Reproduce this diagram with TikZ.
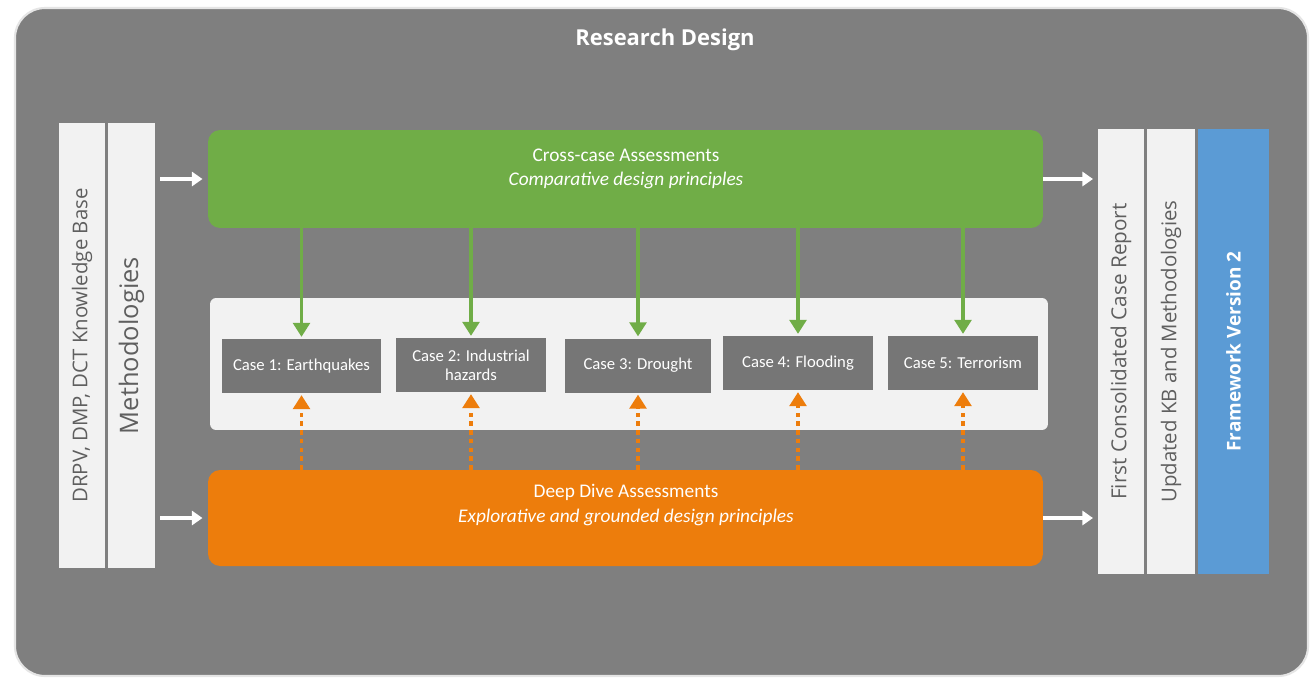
\documentclass[tikz,border=0pt]{standalone}
\usepackage{fontspec}
\setmainfont{Open Sans}
\newfontfamily\boxfont{Carlito}
\usepackage{xcolor}
\usetikzlibrary{arrows.meta}

\definecolor{bggray}{RGB}{127,127,127}
\definecolor{casegray}{RGB}{118,118,118}
\definecolor{panelgray}{RGB}{242,242,242}
\definecolor{labgray}{RGB}{95,95,95}
\definecolor{crossgreen}{RGB}{112,173,71}
\definecolor{diveorange}{RGB}{237,125,12}
\definecolor{fwblue}{RGB}{91,155,213}

\begin{document}
\begin{tikzpicture}[x=0.02cm,y=-0.02cm,
  colbox/.style={fill=panelgray, draw=bggray, line width=0.6pt, minimum height=8.92cm, inner sep=0pt},
  vlab/.style={rotate=90, text=labgray},
  bigbox/.style={rounded corners=0.24cm, minimum width=16.7cm, inner sep=0pt},
  casebox/.style={fill=casegray, text=white, minimum height=1.08cm, align=center, font=\boxfont\fontsize{9.5}{11}\selectfont, inner sep=1pt},
  boxtext/.style={text=white, align=center, font=\boxfont\fontsize{11}{14}\selectfont},
  wharrow/.style={draw=white, line width=2.2pt, -{Triangle[width=8pt,length=6pt]}},
  grarrow/.style={draw=crossgreen, line width=2pt, -{Triangle[width=9.5pt,length=8pt]}},
  orarrow/.style={draw=diveorange, line width=2pt, dash pattern=on 2.5pt off 2.5pt, -{Triangle[width=9.5pt,length=8pt]}}]
%% background
\useasboundingbox (0,0) rectangle (1315,677);
\fill[white] (0,0) rectangle (1315,677);
\draw[fill=bggray, draw=black!10, line width=1.2pt, rounded corners=0.6cm] (15,8) rectangle (1308,676);
\node[text=white, font=\bfseries\fontsize{12.5}{15}\selectfont] (title) at (665,40) {Research Design};
%% left column
\node[colbox, minimum width=0.96cm] (kb) at (82,345.5) {};
\node[colbox, minimum width=0.98cm] (meth) at (131.5,345.5) {};
\node[vlab, font=\fontsize{11.6}{13}\selectfont] at (kb) {DRPV, DMP, DCT Knowledge Base};
\node[vlab, font=\fontsize{14.5}{16}\selectfont] at (meth) {Methodologies};
%% right column
\node[colbox, minimum width=0.96cm] (report) at (1121,351.5) {};
\node[colbox, minimum width=1.0cm] (updated) at (1171,351.5) {};
\node[colbox, fill=fwblue, minimum width=1.46cm] (fw) at (1233.5,351.5) {};
\node[vlab, font=\fontsize{11.8}{13}\selectfont] at (report) {First Consolidated Case Report};
\node[vlab, font=\fontsize{11.6}{13}\selectfont] at (updated) {Updated KB and Methodologies};
\node[vlab, text=white, font=\bfseries\fontsize{10.8}{13}\selectfont] at (fw) {Framework Version 2};
%% assessments
\node[bigbox, fill=crossgreen, minimum height=1.96cm] (cross) at (625.5,179) {};
\node[boxtext] (crosstxt) at (626,169) {Cross-case Assessments\\\textit{Comparative design principles}};
\node[bigbox, fill=diveorange, minimum height=1.92cm] (dive) at (625.5,518) {};
\node[boxtext] (divetxt) at (626,505) {Deep Dive Assessments\\\textit{Explorative and grounded design principles}};
%% cases
\node[fill=panelgray, rounded corners=0.12cm, minimum width=16.76cm, minimum height=2.64cm] (panel) at (629,364) {};
\node[casebox, minimum width=3.18cm] (case1) at (301.5,366) {Case 1: Earthquakes};
\node[casebox, minimum width=3.0cm] (case2) at (471,365) {Case 2: Industrial\\hazards};
\node[casebox, minimum width=2.92cm] (case3) at (638,365.5) {Case 3: Drought};
\node[casebox, minimum width=3.0cm] (case4) at (798,363) {Case 4: Flooding};
\node[casebox, minimum width=3.0cm] (case5) at (963,363) {Case 5: Terrorism};
%% arrows
\foreach \c in {case1,case2,case3,case4,case5}{
  \draw[grarrow] (\c.north |- cross.south) -- ([yshift=1pt]\c.north);
  \draw[orarrow] (\c.south |- dive.north) -- ([yshift=-1pt]\c.south);
}
\draw[wharrow] (meth.east |- cross.west) ++(2pt,0) coordinate (a1) -- ([xshift=-3pt]cross.west);
\draw[wharrow] (meth.east |- dive.west) ++(2pt,0) coordinate (a2) -- ([xshift=-3pt]dive.west);
\draw[wharrow] (cross.east) -- ([xshift=-2pt]report.west |- cross.east);
\draw[wharrow] (dive.east) -- ([xshift=-2pt]report.west |- dive.east);
\end{tikzpicture}
\end{document}
